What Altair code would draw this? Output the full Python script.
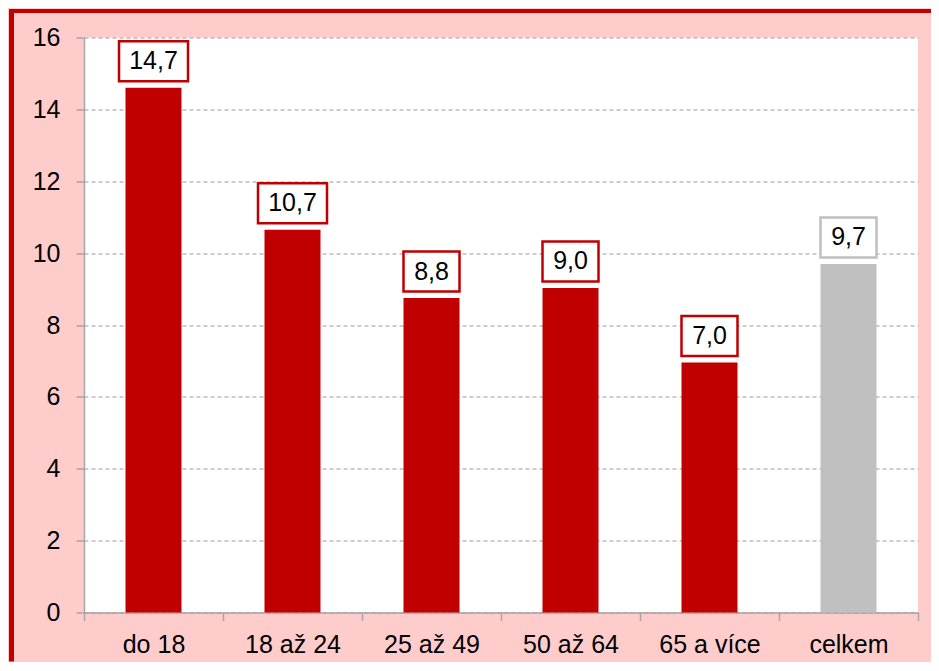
import altair as alt
import pandas as pd

categories = ["do 18", "18 až 24", "25 až 49", "50 až 64", "65 a více", "celkem"]
values = [14.6, 10.65, 8.75, 9.03, 6.96, 9.7]
labels = ["14,7", "10,7", "8,8", "9,0", "7,0", "9,7"]
groups = ["věk", "věk", "věk", "věk", "věk", "celkem"]
y_ticks = [0, 2, 4, 6, 8, 10, 12, 14, 16]

RED = "#C00000"
GRAY = "#C0C0C0"
PINK = "#FFCCCC"
AXIS_GRAY = "#A6A6A6"
FONT = "Liberation Sans"

W, H = 834, 575
PAD = {"left": 76, "top": 29.5, "right": 13, "bottom": 49}

df = pd.DataFrame({
    "cat": categories,
    "value": values,
    "label": labels,
    "grp": groups,
    "n": [len(s) for s in labels],
})

color_scale = alt.Scale(domain=["věk", "celkem"], range=[RED, GRAY])

x_enc = alt.X(
    "cat:N", sort=categories,
    scale=alt.Scale(paddingInner=0, paddingOuter=0),
    axis=alt.Axis(
        title=None, labelAngle=0, labelFont=FONT, labelFontSize=25,
        labelColor="black", labelPadding=12, tickSize=8, tickColor=AXIS_GRAY,
        tickWidth=1.5, domainColor=AXIS_GRAY, domainWidth=1.5, tickBand="extent",
        grid=False,
    ),
)
y_enc = alt.Y(
    "value:Q",
    scale=alt.Scale(domain=[0, 16], nice=False, zero=True),
    axis=alt.Axis(
        title=None, values=y_ticks, labelFont=FONT, labelFontSize=25,
        labelColor="black", labelPadding=16, tickSize=8, tickColor=AXIS_GRAY,
        tickWidth=1.5, domainColor=AXIS_GRAY, domainWidth=1.5,
        grid=True, gridColor="#9A9A9A", gridDash=[4, 3], gridWidth=1,
    ),
)

base = alt.Chart(df)

bars = base.mark_bar(width=56).encode(
    x=x_enc, y=y_enc,
    color=alt.Color("grp:N", scale=color_scale, legend=None),
)

box_long = base.transform_filter("datum.n == 4").mark_rect(
    width=69, fill="white", strokeWidth=2.5, yOffset=-46.5, y2Offset=-6.5
).encode(
    x=alt.X("cat:N", sort=categories), y="value:Q", y2="value:Q",
    stroke=alt.Color("grp:N", scale=color_scale, legend=None),
)
box_short = base.transform_filter("datum.n == 3").mark_rect(
    width=56, fill="white", strokeWidth=2.5, yOffset=-46.5, y2Offset=-6.5
).encode(
    x=alt.X("cat:N", sort=categories), y="value:Q", y2="value:Q",
    stroke=alt.Color("grp:N", scale=color_scale, legend=None),
)

texts = base.mark_text(
    font=FONT, fontSize=25, color="black", dy=-26.5, baseline="middle", align="center"
).encode(
    x=alt.X("cat:N", sort=categories), y="value:Q", text="label:N",
)

frame_df = pd.DataFrame({"k": [0]})
frame_left = alt.Chart(frame_df).mark_rect(color=RED).encode(
    x=alt.value(-75), x2=alt.value(-70), y=alt.value(-28.5), y2=alt.value(H + PAD["bottom"])
)
frame_top = alt.Chart(frame_df).mark_rect(color=RED).encode(
    x=alt.value(-75), x2=alt.value(W + PAD["right"]), y=alt.value(-28.5), y2=alt.value(-24.5)
)

chart = alt.layer(
    bars, box_long, box_short, texts, frame_left, frame_top
).properties(
    width=W, height=H,
    autosize=alt.AutoSizeParams(type="none"),
    padding=PAD,
    background=PINK,
).configure_view(
    stroke=None, fill="white"
)

chart.save("out.html", embed_options={"renderer": "svg", "actions": False})
